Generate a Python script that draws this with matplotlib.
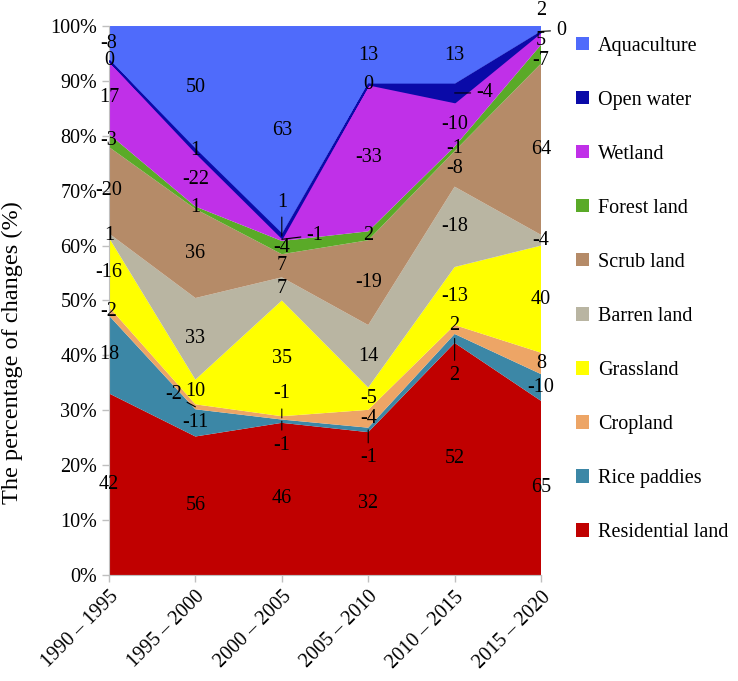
import numpy as np
import matplotlib
matplotlib.use("Agg")
import matplotlib.pyplot as plt
from matplotlib.patches import Patch
from matplotlib.ticker import PercentFormatter

plt.rcParams['font.family'] = 'serif'
plt.rcParams['font.serif'] = ['Liberation Serif', 'DejaVu Serif']

periods = ['1990 – 1995', '1995 – 2000', '2000 – 2005', '2005 – 2010', '2010 – 2015', '2015 – 2020']
names = ['Residential land', 'Rice paddies', 'Cropland', 'Grassland', 'Barren land',
         'Scrub land', 'Forest land', 'Wetland', 'Open water', 'Aquaculture']
residential = [42, 56, 46, 32, 52, 65]
rice = [18, -11, -1, -1, 2, -10]
cropland = [-2, -2, -1, -4, 2, 8]
grassland = [-16, 10, 35, -5, -13, 40]
barren = [1, 33, 7, 14, -18, -4]
scrub = [-20, 36, 7, -19, -8, 64]
forest = [-3, 1, -4, 2, -1, -7]
wetland = [17, -22, -1, -33, -10, 5]
openwater = [0, 1, 1, 0, -4, 0]
aquaculture = [-8, 50, 63, 13, 13, 2]

colors = ['#C00000', '#3C87A6', '#EDA566', '#FFFF00', '#B9B5A2',
          '#B58B68', '#5AAA28', '#C030E8', '#0A0AA8', '#4F6BFB']

vals = np.array([residential, rice, cropland, grassland, barren,
                 scrub, forest, wetland, openwater, aquaculture], dtype=float)
pct = np.abs(vals) / np.abs(vals).sum(axis=0) * 100
x = np.arange(len(periods))

fig = plt.figure(figsize=(7.38, 6.81), dpi=100)
ax = fig.add_axes([0.1477, 0.1557, 0.5854, 0.8061])

polys = ax.stackplot(x, pct, colors=colors, linewidth=0)
# open water gets its dark outline, drawn above the other areas
polys[8].set_edgecolor('#0A0AA8')
polys[8].set_linewidth(1.3)
polys[8].set_zorder(3)

# labels sit in the middle of each band; a few get pushed aside with a leader line
# (series index, period index) -> (dx, dy) in pixels, draw leader?
moved = {
    (2, 1): (-22, 12, True),
    (1, 2): (0, -24, True),
    (2, 2): (0, 24, True),
    (7, 2): (33, 4, True),
    (8, 2): (0, 34, True),
    (1, 3): (0, -28, True),
    (1, 4): (0, -37, True),
    (2, 4): (0, 4, False),
    (8, 4): (30, 0, True),
    (6, 5): (0, -6, False),
    (7, 5): (0, -2, False),
    (8, 5): (20, 1, True),
    (9, 5): (0, 18, False),
}
cum = np.cumsum(pct, axis=0)
mid = cum - pct / 2
for s in range(len(names)):
    for i in range(len(periods)):
        dx, dy, lead = moved.get((s, i), (0, 0, False))
        arrow = dict(arrowstyle='-', color='black', lw=0.8, shrinkA=2, shrinkB=0) if lead else None
        ax.annotate(str(int(vals[s, i])), xy=(i, mid[s, i]), xytext=(dx, dy),
                    textcoords='offset pixels', ha='center', va='center',
                    fontsize=14.5, zorder=5, arrowprops=arrow, annotation_clip=False)

ax.set_xlim(0, len(periods) - 1)
ax.set_ylim(0, 100)
ax.set_yticks(np.arange(0, 101, 10))
ax.yaxis.set_major_formatter(PercentFormatter(decimals=0))
ax.set_xticks(x)
ax.set_xticklabels(periods, rotation=45, ha='right', rotation_mode='anchor')
ax.tick_params(axis='both', labelsize=14.5, color='#BFBFBF', length=5, width=1)
ax.tick_params(axis='x', pad=4)
for side in ['top', 'right']:
    ax.spines[side].set_visible(False)
for side in ['left', 'bottom']:
    ax.spines[side].set_color('#BFBFBF')
ax.set_ylabel('The percentage of changes (%)', fontsize=17.5)
ax.yaxis.set_label_coords(-0.20, 0.406)

handles = [Patch(facecolor=c, edgecolor='none') for c in colors[::-1]]
fig.legend(handles, names[::-1], loc='upper left', bbox_to_anchor=(0.769, 0.958),
           frameon=False, fontsize=14.5, handlelength=0.65, handleheight=0.65,
           handletextpad=0.45, labelspacing=1.74, borderaxespad=0)

fig.savefig('out.png', dpi=100)
